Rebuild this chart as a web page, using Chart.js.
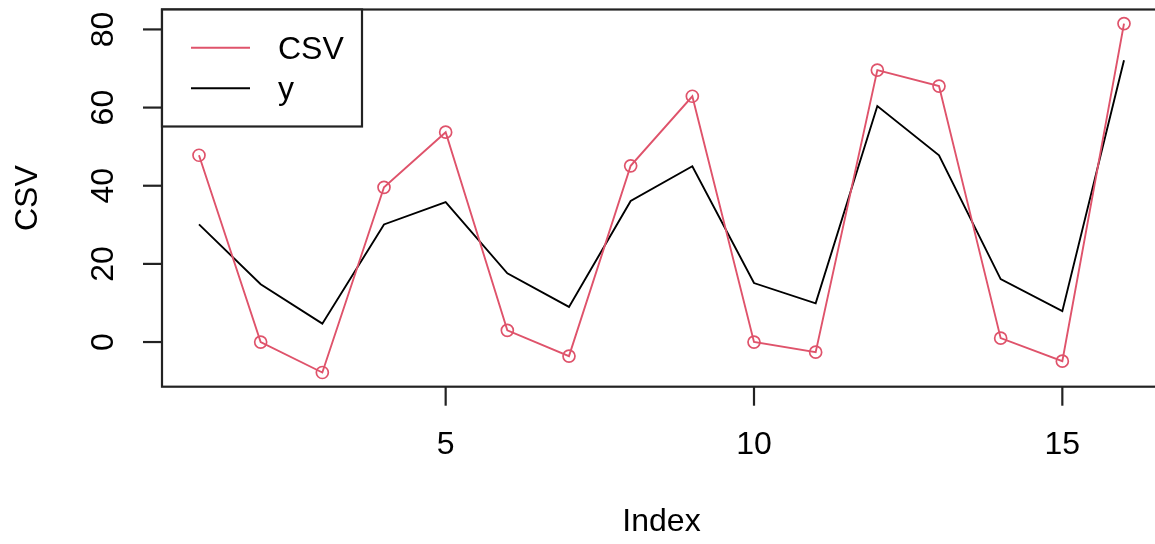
<!DOCTYPE html>
<html>
<head>
<meta charset="utf-8">
<script src="https://cdn.jsdelivr.net/npm/chart.js@4"></script>
<style>
  html, body { margin: 0; padding: 0; background: #fff; overflow: hidden; }
  #wrap { width: 1175px; height: 544px; }
</style>
</head>
<body>
<div id="wrap"><canvas id="myChart1"></canvas></div>
<script>
let index = [1, 2, 3, 4, 5, 6, 7, 8, 9, 10, 11, 12, 13, 14, 15, 16];
let csv = [47.8, 0, -7.8, 39.6, 53.7, 3.0, -3.6, 45.1, 62.9, 0, -2.6, 69.6, 65.5, 1.0, -4.9, 81.5];
let yVals = [30.1, 14.8, 4.7, 30.1, 35.8, 17.6, 9.0, 36.1, 45.0, 15.1, 9.9, 60.4, 47.8, 16.1, 7.9, 72.1];
let xTicks = [5, 10, 15];
let yTicks = [0, 20, 40, 60, 80];
let seriesNames = ['CSV', 'y'];
let colorHex = ['#DF536B', '#000000'];

const FONT = '32px "Liberation Sans", Arial, sans-serif';

// R-style axes, box and legend drawn on top of the chart
const baseGraphics = {
  id: 'baseGraphics',
  afterDraw(chart) {
    const c = chart.ctx;
    const a = chart.chartArea;
    const xs = chart.scales.x;
    const ys = chart.scales.y;
    c.save();
    c.strokeStyle = '#222';
    c.lineWidth = 2.2;
    c.strokeRect(a.left, a.top, a.right - a.left, a.bottom - a.top);

    c.fillStyle = '#000';
    c.font = FONT;
    c.textAlign = 'center';
    c.textBaseline = 'middle';

    // x axis ticks + labels
    xTicks.forEach(v => {
      let px = xs.getPixelForValue(v);
      c.beginPath();
      c.moveTo(px, a.bottom);
      c.lineTo(px, a.bottom + 19);
      c.stroke();
      c.fillText(String(v), px, 445);
    });

    // y axis ticks + rotated labels
    yTicks.forEach(v => {
      let py = ys.getPixelForValue(v);
      c.beginPath();
      c.moveTo(a.left, py);
      c.lineTo(a.left - 19, py);
      c.stroke();
      c.save();
      c.translate(104, py);
      c.rotate(-Math.PI / 2);
      c.fillText(String(v), 0, 0);
      c.restore();
    });

    // axis titles
    c.fillText('Index', (a.left + a.right) / 2, 522);
    c.save();
    c.translate(28, (a.top + a.bottom) / 2);
    c.rotate(-Math.PI / 2);
    c.fillText('CSV', 0, 0);
    c.restore();

    // legend
    c.fillStyle = '#fff';
    c.fillRect(a.left, a.top, 200, 117);
    c.strokeRect(a.left, a.top, 200, 117);
    let rows = [47.7, 88.3];
    rows.forEach((ry, i) => {
      c.strokeStyle = colorHex[i];
      c.lineWidth = 2;
      c.beginPath();
      c.moveTo(191, ry);
      c.lineTo(250, ry);
      c.stroke();
      c.fillStyle = '#000';
      c.textAlign = 'left';
      c.fillText(seriesNames[i], 278, ry + 2);
    });
    c.restore();
  }
};

let ctx = document.getElementById('myChart1').getContext('2d');
let myChart1 = new Chart(ctx, {
  type: 'line',
  data: {
    datasets: [{
      label: seriesNames[0],
      data: index.map((x, i) => ({ x: x, y: csv[i] })),
      borderColor: colorHex[0],
      borderWidth: 1.9,
      pointRadius: 6,
      pointBorderWidth: 1.7,
      pointBorderColor: colorHex[0],
      pointBackgroundColor: 'rgba(0,0,0,0)',
      tension: 0
    }, {
      label: seriesNames[1],
      data: index.map((x, i) => ({ x: x, y: yVals[i] })),
      borderColor: colorHex[1],
      borderWidth: 1.9,
      pointRadius: 0,
      tension: 0
    }]
  },
  options: {
    responsive: true,
    maintainAspectRatio: false,
    animation: false,
    devicePixelRatio: 1,
    layout: {
      padding: { left: 162, top: 9.5, right: 14, bottom: 157.3 }
    },
    plugins: {
      legend: { display: false },
      tooltip: { enabled: false }
    },
    scales: {
      x: { type: 'linear', min: 0.4, max: 16.6, display: false },
      y: { type: 'linear', min: -11.43, max: 85.1, display: false }
    }
  },
  plugins: [baseGraphics]
});
</script>
</body>
</html>
